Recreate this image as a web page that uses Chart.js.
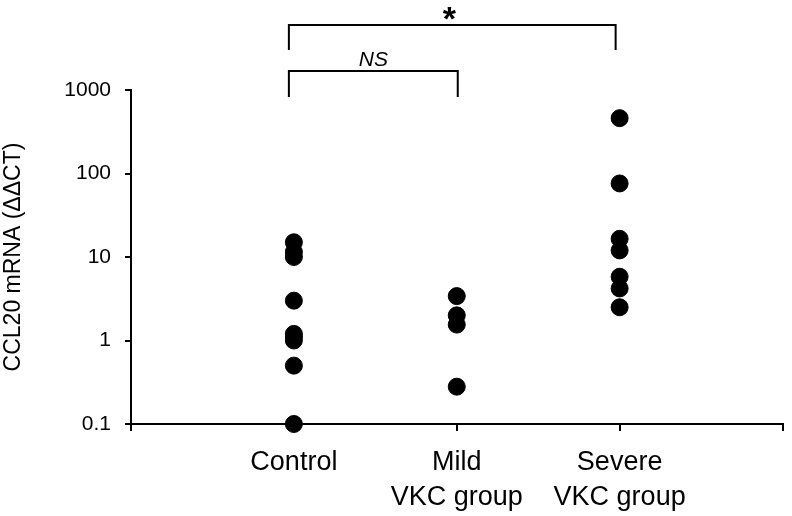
<!DOCTYPE html>
<html>
<head>
<meta charset="utf-8">
<script src="https://cdn.jsdelivr.net/npm/chart.js@4/dist/chart.umd.min.js"></script>
<style>
  body { margin: 0; background: #fff; }
  #wrap { width: 792px; height: 516px; }
</style>
</head>
<body>
<div id="wrap"><canvas id="grafico" width="792" height="516"></canvas></div>
<script>
'use strict'

// grupos y valores
const grupos = [['Control'], ['Mild', 'VKC group'], ['Severe', 'VKC group']]
const control = [15, 11.5, 10, 3, 1.2, 1.1, 1, 0.5, 0.1]
const mild = [3.4, 2, 1.55, 0.28]
const severe = [460, 76, 16.5, 12, 5.8, 4.2, 2.5]
const ticksY = [0.1, 1, 10, 100, 1000]
const fuente = "'Liberation Sans', Arial, sans-serif"

const puntos = []
;[control, mild, severe].forEach((serie, i) => {
  serie.forEach(v => puntos.push({ x: i + 1, y: v }))
})

// corchetes de significancia
const corchetes = {
  id: 'corchetes',
  afterDraw(chart) {
    const c = chart.ctx
    const sx = chart.scales.x
    const x1 = sx.getPixelForValue(1) - 5
    const x2 = sx.getPixelForValue(2) + 1
    const x3 = sx.getPixelForValue(3) - 4
    c.save()
    c.strokeStyle = '#000'
    c.lineWidth = 2
    c.beginPath()
    c.moveTo(x1, 50); c.lineTo(x1, 25); c.lineTo(x3, 25); c.lineTo(x3, 50)
    c.moveTo(x1, 97); c.lineTo(x1, 71); c.lineTo(x2, 71); c.lineTo(x2, 97)
    c.stroke()
    c.fillStyle = '#000'
    c.textAlign = 'center'
    c.textBaseline = 'middle'
    c.font = 'bold 34px ' + fuente
    c.fillText('*', (x1 + x3) / 2 - 3, 21)
    c.font = 'italic 21px ' + fuente
    c.fillText('NS', (x1 + x2) / 2, 60)
    c.restore()
  }
}

const ctx = document.getElementById('grafico').getContext('2d')
new Chart(ctx, {
  type: 'scatter',
  data: {
    datasets: [{
      data: puntos,
      backgroundColor: '#000',
      borderColor: '#000',
      pointRadius: 8.5,
      pointHoverRadius: 8.5,
      clip: false
    }]
  },
  options: {
    responsive: false,
    animation: false,
    layout: { padding: { top: 90, right: -4, left: 0, bottom: 0 } },
    plugins: { legend: { display: false }, tooltip: { enabled: false } },
    scales: {
      x: {
        type: 'linear',
        min: 0,
        max: 4,
        afterFit: s => { s.height = 92; s.paddingLeft = 0; s.paddingRight = 0 },
        afterBuildTicks: s => { s.ticks = [0, 1, 2, 3, 4].map(v => ({ value: v })) },
        border: { color: '#000', width: 2 },
        grid: { drawOnChartArea: false, color: '#000', lineWidth: 2, tickLength: 7 },
        ticks: {
          color: '#000',
          padding: 14,
          font: { family: fuente, size: 27, lineHeight: 1.3 },
          maxRotation: 0,
          autoSkip: false,
          callback: v => (v >= 1 && v <= 3) ? grupos[v - 1] : ''
        }
      },
      y: {
        type: 'logarithmic',
        min: 0.1,
        max: 1000,
        afterFit: s => { s.width = 131 },
        afterBuildTicks: s => { s.ticks = ticksY.map(v => ({ value: v })) },
        border: { color: '#000', width: 2 },
        grid: { drawOnChartArea: false, color: '#000', lineWidth: 2, tickLength: 6 },
        ticks: {
          color: '#000',
          padding: 14,
          font: { family: fuente, size: 21 },
          callback: v => String(v)
        },
        title: {
          display: true,
          text: 'CCL20 mRNA (ΔΔCT)',
          color: '#000',
          padding: 0,
          font: { family: fuente, size: 23 }
        }
      }
    }
  },
  plugins: [corchetes]
})
</script>
</body>
</html>
